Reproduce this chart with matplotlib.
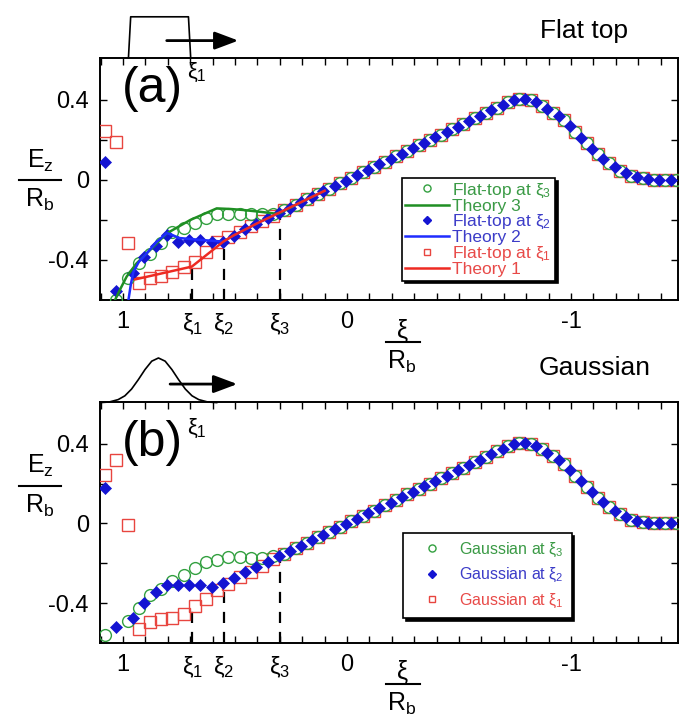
import numpy as np
import matplotlib
matplotlib.use('Agg')
import matplotlib.pyplot as plt
from matplotlib.lines import Line2D

plt.rcParams['font.family'] = ['Liberation Sans', 'DejaVu Sans']
plt.rcParams['mathtext.fontset'] = 'custom'
plt.rcParams['mathtext.rm'] = 'Liberation Sans'
plt.rcParams['mathtext.it'] = 'Liberation Sans'
plt.rcParams['mathtext.bf'] = 'Liberation Sans:bold'

# ---------------- data ----------------
# sample positions (xi / R_b) of the open markers (circles, squares)
xi_open = [1.08, 1.03, 0.98, 0.93, 0.88, 0.83, 0.78, 0.73, 0.68, 0.63, 0.58,
           0.53, 0.48, 0.43, 0.38, 0.33, 0.28, 0.23, 0.18, 0.13, 0.08, 0.03,
           -0.02, -0.07, -0.12, -0.17, -0.22, -0.27, -0.32, -0.37, -0.42,
           -0.47, -0.52, -0.57, -0.62, -0.67, -0.72, -0.77, -0.82, -0.87,
           -0.92, -0.97, -1.02, -1.07, -1.12, -1.17, -1.22, -1.27, -1.32,
           -1.37, -1.42, -1.47]
# sample positions of the filled diamonds
xi_diam = [1.08, 1.03, 0.955, 0.905, 0.855, 0.805, 0.755, 0.705, 0.655, 0.605,
           0.555, 0.505, 0.455, 0.405, 0.355, 0.305, 0.255, 0.205, 0.155,
           0.105, 0.055, 0.005, -0.045, -0.095, -0.145, -0.195, -0.245, -0.295,
           -0.345, -0.395, -0.445, -0.495, -0.545, -0.595, -0.645, -0.695,
           -0.745, -0.795, -0.845, -0.895, -0.945, -0.995, -1.045, -1.095,
           -1.145, -1.195, -1.245, -1.295, -1.345, -1.395, -1.445]

# common wake (all curves coincide) sampled on the open-marker grid from xi=0.28
tail_open = [-0.151, -0.124, -0.097, -0.070, -0.043, -0.016, 0.011, 0.038, 0.065,
             0.092, 0.119, 0.146, 0.173, 0.200, 0.227, 0.254, 0.281, 0.308,
             0.335, 0.362, 0.390, 0.405, 0.400, 0.372, 0.337, 0.298, 0.240,
             0.185, 0.130, 0.085, 0.047, 0.020, 0.008, 0.002, 0.000, 0.000]
# common wake on the diamond grid from xi=0.455
tail_diam = [-0.246, -0.219, -0.192, -0.165, -0.138, -0.111, -0.084, -0.057,
             -0.030, -0.003, 0.024, 0.051, 0.078, 0.105, 0.132, 0.159, 0.186,
             0.213, 0.240, 0.267, 0.294, 0.321, 0.348, 0.375, 0.398, 0.406,
             0.389, 0.356, 0.320, 0.270, 0.212, 0.157, 0.107, 0.065, 0.033,
             0.013, 0.004, 0.000, 0.000]

nan = np.nan
# (a) flat-top driver
flat_xi3_head = [nan, -0.60, -0.49, -0.417, -0.37, -0.313, -0.258, -0.242, -0.217,
                 -0.192, -0.17, -0.17, -0.17, -0.17, -0.17, -0.172]
flat_xi2_head = [0.092, -0.555, -0.463, -0.383, -0.33, -0.275, -0.308, -0.30,
                 -0.30, -0.308, -0.308, -0.278]
flat_xi1_head = [0.247, 0.19, -0.317, -0.513, -0.49, -0.478, -0.458, -0.437,
                 -0.41, -0.358, -0.308, -0.286, -0.259, -0.232, -0.205, -0.178]

theory3_xi = [1.036, 1.01, 0.984, 0.94, 0.87, 0.805, 0.70, 0.582, 0.52, 0.463,
              0.38, 0.307, 0.20, 0.10]
theory3_E = [-0.60, -0.54, -0.483, -0.417, -0.34, -0.267, -0.20, -0.142, -0.145,
             -0.15, -0.16, -0.17, -0.108, -0.054]
theory2_xi = [0.976, 0.965, 0.954, 0.93, 0.895, 0.85, 0.805, 0.78, 0.75, 0.65,
              0.552, 0.508, 0.40, 0.30, 0.20, 0.10]
theory2_E = [-0.60, -0.52, -0.46, -0.41, -0.367, -0.31, -0.265, -0.275, -0.29,
             -0.30, -0.308, -0.278, -0.216, -0.162, -0.108, -0.054]
theory1_xi = [0.946, 0.693, 0.552, 0.508, 0.40, 0.30, 0.20, 0.10]
theory1_E = [-0.497, -0.433, -0.308, -0.278, -0.216, -0.162, -0.108, -0.054]

# (b) Gaussian driver
gauss_xi3_head = [-0.56, nan, -0.488, -0.425, -0.36, -0.327, -0.29, -0.257,
                  -0.223, -0.195, -0.182, -0.168, -0.168, -0.172, -0.172, -0.165]
gauss_xi2_head = [0.178, -0.522, -0.472, -0.398, -0.343, -0.31, -0.31, -0.31,
                  -0.31, -0.318, -0.30, -0.272]
gauss_xi1_head = [0.245, 0.318, -0.007, -0.532, -0.497, -0.482, -0.472, -0.452,
                  -0.415, -0.377, -0.335, -0.302, -0.268, -0.243, -0.213, -0.178]

# positions of xi_1, xi_2, xi_3 and where the dashed markers end
xi_marks = [0.69, 0.55, 0.30]
dash_top_a = [-0.435, -0.31, -0.185]
dash_top_b = [-0.435, -0.335, -0.18]

# driver sketches drawn above the axes
flat_pulse_xi = [0.976, 0.966, 0.708, 0.698]
flat_pulse_E = [0.61, 0.816, 0.816, 0.61]
gauss_pulse_xi = [1.102, 1.062, 1.022, 0.992, 0.962, 0.932, 0.902, 0.872, 0.842,
                  0.812, 0.782, 0.752, 0.722, 0.692, 0.662, 0.622, 0.582]
gauss_pulse_E = [0.607, 0.610, 0.622, 0.641, 0.675, 0.722, 0.773, 0.815, 0.831,
                 0.815, 0.773, 0.722, 0.675, 0.641, 0.622, 0.610, 0.607]

xtick_pos = [1.0, 0.69, 0.55, 0.30, 0.0, -1.0]
xtick_lab = ['1', r'$\xi_1$', r'$\xi_2$', r'$\xi_3$', '0', '-1']
ytick_pos = [-0.4, -0.2, 0.0, 0.2, 0.4]
ytick_lab = ['-0.4', '', '0', '', '0.4']

# ---------------- style ----------------
GREEN = '#33a040'
BLUE = '#1414d2'
RED = '#e8453f'
LGREEN = '#1f8f23'
LBLUE = '#1f2cff'
LRED = '#ee2a22'
TGREEN = '#3a9a45'
TBLUE = '#3c3cc8'
TRED = '#e84a48'

W, H = 688, 718
fig = plt.figure(figsize=(W / 100, H / 100), dpi=100)


def fx(px):
    return px / W


def fy(py):
    return 1 - py / H


ax1 = fig.add_axes([fx(100), fy(300), 578 / W, 242 / H])
ax2 = fig.add_axes([fx(100), fy(643), 578 / W, 241 / H])

XLIM = (1.103, -1.478)
YLIM = (-0.60, 0.61)
TICKFS = 17
MS_OPEN = 8.5
MS_DIAM = 6.5


def setup(ax):
    ax.set_xlim(*XLIM)
    ax.set_ylim(*YLIM)
    for s in ax.spines.values():
        s.set_linewidth(1.4)
    ax.set_xticks(np.round(np.arange(-1.4, 1.11, 0.1), 2))
    ax.set_xticklabels([])
    ax.set_yticks(ytick_pos)
    ax.set_yticklabels(ytick_lab, fontsize=TICKFS)
    ax.tick_params(direction='in', length=5, width=1, top=True, right=True,
                   pad=8)
    trans = ax.get_xaxis_transform()
    for p, lab in zip(xtick_pos, xtick_lab):
        ax.text(p, -0.045, lab, transform=trans, ha='center', va='top',
                fontsize=TICKFS)


def draw_markers(ax, g, b, r):
    ax.plot(xi_open, r, ls='none', marker='s', ms=MS_OPEN - 0.5, mfc='none',
            mec=RED, mew=1.0, zorder=3)
    ax.plot(xi_open, g, ls='none', marker='o', ms=MS_OPEN, mfc='none',
            mec=GREEN, mew=1.0, zorder=4)
    ax.plot(xi_diam, b, ls='none', marker='D', ms=MS_DIAM, mfc=BLUE, mec=BLUE,
            mew=0.5, zorder=5)


def dashes(ax, tops):
    for p, t in zip(xi_marks, tops):
        ax.plot([p, p], [YLIM[0], t], color='black', lw=1.6, ls=(0, (5, 4)),
                zorder=2)


ARROW = dict(arrowstyle='-|>,head_length=0.8,head_width=0.3', lw=2,
             color='black', mutation_scale=18, shrinkA=0, shrinkB=0)

# ---------- panel (a) ----------
setup(ax1)
g_a = flat_xi3_head + tail_open
r_a = flat_xi1_head + tail_open
b_a = flat_xi2_head + tail_diam
draw_markers(ax1, g_a, b_a, r_a)
ax1.plot(theory3_xi, theory3_E, color=LGREEN, lw=1.8, zorder=6)
ax1.plot(theory2_xi, theory2_E, color=LBLUE, lw=1.8, zorder=6)
ax1.plot(theory1_xi, theory1_E, color=LRED, lw=1.8, zorder=6)
dashes(ax1, dash_top_a)

ax1.plot(flat_pulse_xi, flat_pulse_E, color='black', lw=1.2, clip_on=False)
ax1.annotate('', xy=(0.485, 0.697), xytext=(0.805, 0.697), arrowprops=ARROW,
             annotation_clip=False)
ax1.text(0.714, 0.99, r'$\xi_1$', transform=ax1.get_xaxis_transform(),
         ha='left', va='top', fontsize=16)
ax1.text(0.037, 0.87, '(a)', transform=ax1.transAxes, ha='left', va='center',
         fontsize=36)

h_a = [Line2D([], [], ls='none', marker='o', ms=MS_OPEN, mfc='none', mec=GREEN),
       Line2D([], [], color=LGREEN, lw=1.8),
       Line2D([], [], ls='none', marker='D', ms=MS_DIAM, mfc=BLUE, mec=BLUE),
       Line2D([], [], color=LBLUE, lw=1.8),
       Line2D([], [], ls='none', marker='s', ms=MS_OPEN - 0.5, mfc='none',
              mec=RED),
       Line2D([], [], color=LRED, lw=1.8)]
l_a = [r'Flat-top at $\xi_3$', 'Theory 3', r'Flat-top at $\xi_2$', 'Theory 2',
       r'Flat-top at $\xi_1$', 'Theory 1']
leg = ax1.legend(h_a, l_a, loc='upper left',
                 bbox_to_anchor=((402 - 100) / 578, (300 - 178) / 242),
                 borderaxespad=0, fontsize=12.5, labelspacing=-0.05,
                 handlelength=2.5, handletextpad=0.2, borderpad=0.2,
                 markerscale=0.6, fancybox=False,
                 shadow={'color': 'black', 'alpha': 1.0})
leg.get_frame().set_edgecolor('black')
leg.get_frame().set_linewidth(1.2)
for t, c in zip(leg.get_texts(), [TGREEN, TGREEN, TBLUE, TBLUE, TRED, TRED]):
    t.set_color(c)

# ---------- panel (b) ----------
setup(ax2)
g_b = gauss_xi3_head + tail_open
r_b = gauss_xi1_head + tail_open
b_b = gauss_xi2_head + tail_diam
draw_markers(ax2, g_b, b_b, r_b)
dashes(ax2, dash_top_b)

ax2.plot(gauss_pulse_xi, gauss_pulse_E, color='black', lw=1.2, clip_on=False)
ax2.annotate('', xy=(0.49, 0.70), xytext=(0.79, 0.70), arrowprops=ARROW,
             annotation_clip=False)
ax2.text(0.714, 0.94, r'$\xi_1$', transform=ax2.get_xaxis_transform(),
         ha='left', va='top', fontsize=16)
ax2.text(0.037, 0.83, '(b)', transform=ax2.transAxes, ha='left', va='center',
         fontsize=36)

h_b = [Line2D([], [], ls='none', marker='o', ms=MS_OPEN, mfc='none', mec=GREEN),
       Line2D([], [], ls='none', marker='D', ms=MS_DIAM, mfc=BLUE, mec=BLUE),
       Line2D([], [], ls='none', marker='s', ms=MS_OPEN - 0.5, mfc='none',
              mec=RED)]
l_b = [r'Gaussian at $\xi_3$', r'Gaussian at $\xi_2$', r'Gaussian at $\xi_1$']
leg2 = ax2.legend(h_b, l_b, loc='upper left',
                  bbox_to_anchor=((403 - 100) / 578, (643 - 533) / 241),
                  borderaxespad=0, fontsize=11.5, labelspacing=0.45,
                  handlelength=2.6, handletextpad=0.4, borderpad=0.5,
                  markerscale=0.6, fancybox=False,
                  shadow={'color': 'black', 'alpha': 1.0})
leg2.get_frame().set_edgecolor('black')
leg2.get_frame().set_linewidth(1.2)
for t, c in zip(leg2.get_texts(), [TGREEN, TBLUE, TRED]):
    t.set_color(c)


# ---------- labels ----------
def frac_label(xc, ytop, ymid, ybot, num, den, x0, x1, fs=18):
    fig.text(fx(xc), fy(ytop), num, ha='center', va='center', fontsize=fs)
    fig.add_artist(Line2D([fx(x0), fx(x1)], [fy(ymid), fy(ymid)], color='black',
                          lw=1.5, transform=fig.transFigure))
    fig.text(fx(xc), fy(ybot), den, ha='center', va='center', fontsize=fs)


frac_label(40, 161, 180, 200, r'$\mathrm{E_z}$', r'$\mathrm{R_b}$', 19, 61)
frac_label(40, 466, 486, 506, r'$\mathrm{E_z}$', r'$\mathrm{R_b}$', 19, 61)
frac_label(402, 331, 342, 362, r'$\xi$', r'$\mathrm{R_b}$', 386, 420)
frac_label(402, 672, 684, 704, r'$\xi$', r'$\mathrm{R_b}$', 386, 420)

fig.text(fx(584), fy(31), 'Flat top', ha='center', va='center', fontsize=19)
fig.text(fx(595), fy(368), 'Gaussian', ha='center', va='center', fontsize=19)

fig.savefig('out.png', dpi=100)
